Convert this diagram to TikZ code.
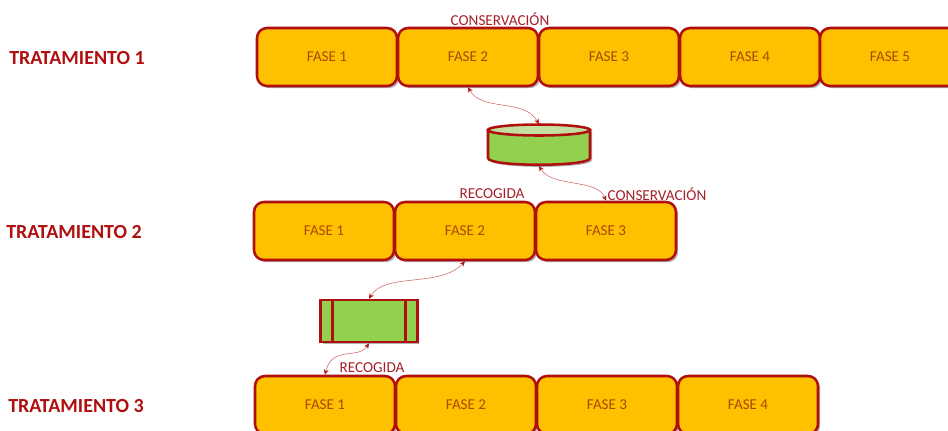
\documentclass[tikz,border=0pt]{standalone}
\usepackage{fontspec}
\setmainfont{Carlito}
\usepackage{xcolor}
\usetikzlibrary{arrows.meta}
\usetikzlibrary{calc}
\usetikzlibrary{shadows}
\definecolor{darkline}{HTML}{B00F0F}
\definecolor{fasecolor}{HTML}{FFC000}
\definecolor{fasetext}{HTML}{A84A00}
\definecolor{storecolor}{HTML}{92D050}
\definecolor{storetop}{HTML}{C5DFA0}
\definecolor{labelcolor}{HTML}{A5202A}
\tikzset{
  sombra/.style={drop shadow={shadow xshift=1.6pt,shadow yshift=-1.6pt,opacity=0.3,fill=black}},
  fase/.style={draw=darkline,line width=1.9pt,fill=fasecolor,rounded corners=7.5pt,
    minimum width=105pt,minimum height=43.5pt,inner sep=0pt,text=fasetext,
    font=\fontsize{11.3}{13}\selectfont,sombra},
  tratamiento/.style={text=darkline,font=\fontsize{15}{17}\selectfont\bfseries,inner sep=0pt},
  etiqueta/.style={text=labelcolor,font=\fontsize{11.4}{13}\selectfont,inner sep=0pt},
  almacen/.style={draw=darkline,line width=1.9pt,fill=storecolor},
  enlace/.style={draw=darkline!65!white,line width=0.4pt,
    {Stealth[darkline,length=4pt,width=3.5pt]}-{Stealth[darkline,length=4pt,width=3.5pt]}}
}
\begin{document}
\begin{tikzpicture}[x=0.75pt,y=-0.75pt]
\useasboundingbox[clip] (0,0) rectangle (948,430);
%% tratamiento 1
\node[tratamiento] (t1) at (77,58) {TRATAMIENTO 1};
\node[fase] (a1) at (327,57) {FASE 1};
\node[fase] (a2) at (468,57) {FASE 2};
\node[fase] (a3) at (609,57) {FASE 3};
\node[fase] (a4) at (750,57) {FASE 4};
\node[fase] (a5) at (890,57) {FASE 5};
\node[etiqueta] (c1) at (500,19) {CONSERVACIÓN};
%% tratamiento 2
\node[tratamiento] (t2) at (74,232) {TRATAMIENTO 2};
\node[fase] (b1) at (324,231) {FASE 1};
\node[fase] (b2) at (465,231) {FASE 2};
\node[fase] (b3) at (606,231) {FASE 3};
\node[etiqueta] (r1) at (492,194) {RECOGIDA};
\node[etiqueta] (c2) at (657,194) {CONSERVACIÓN};
%% tratamiento 3
\node[tratamiento] (t3) at (76,406) {TRATAMIENTO 3};
\node[fase] (d1) at (325,405) {FASE 1};
\node[fase] (d2) at (466,405) {FASE 2};
\node[fase] (d3) at (607,405) {FASE 3};
\node[fase] (d4) at (748,405) {FASE 4};
\node[etiqueta] (r2) at (372,368) {RECOGIDA};
%% almacenes
\path[almacen,sombra] (488,130) -- (488,158) .. controls (488,167) and (590,167) .. (590,158) -- (590,130) -- cycle;
\draw[almacen,fill=storetop] (539,130) ellipse [x radius=51,y radius=5.5];
\node[minimum width=78pt,minimum height=31pt,inner sep=0pt] (disco) at (539,145) {};
\node[almacen,sombra,minimum width=72.5pt,minimum height=31.5pt,inner sep=0pt] (cinta) at (369,321) {};
\draw[darkline,line width=1.9pt] ($(cinta.north west)+(13,0)$) -- ($(cinta.south west)+(13,0)$);
\draw[darkline,line width=1.9pt] ($(cinta.north east)+(-13,0)$) -- ($(cinta.south east)+(-13,0)$);
%% enlaces
\draw[enlace] (a2.south) .. controls (482,112) and (524,98) .. (disco.north);
\draw[enlace] (disco.south) .. controls (552,188) and (597,178) .. (b3.north);
\draw[enlace] (b2.south) .. controls (440,288) and (385,272) .. (cinta.north);
\draw[enlace] (cinta.south) .. controls (358,360) and (332,345) .. (d1.north);
\end{tikzpicture}
\end{document}
